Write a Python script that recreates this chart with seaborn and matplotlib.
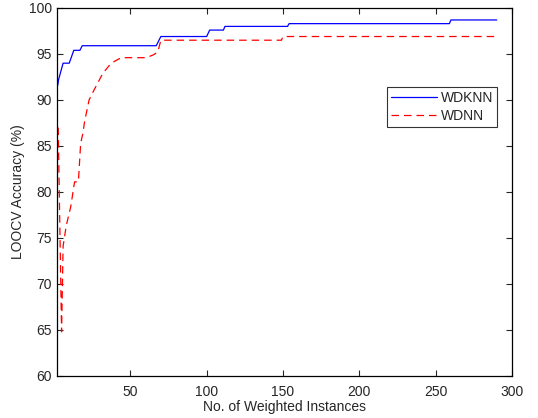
import matplotlib
matplotlib.use("Agg")
import matplotlib.pyplot as plt
import seaborn as sns
import pandas as pd

# WDKNN (blue solid) breakpoints
wdknn_x = [2.5, 3, 6, 10, 13, 17, 18.5, 67, 68.5, 70, 100, 102, 111, 112, 153, 154, 259, 260, 290]
wdknn_y = [91.6, 92.2, 94.0, 94.0, 95.4, 95.4, 95.9, 95.9, 96.4, 96.9, 96.9, 97.6, 97.6, 98.0, 98.0, 98.3, 98.3, 98.7, 98.7]

# WDNN (red dashed) breakpoints
wdnn_x = [2.8, 5, 6, 8, 11, 13.5, 16, 17.5, 19, 20, 23, 26, 32, 37.5, 44, 60.5, 65, 68, 70, 149, 150, 289]
wdnn_y = [87.0, 64.8, 74.1, 76.3, 78.4, 81.1, 81.1, 85.3, 86.4, 87.6, 90.0, 91.0, 92.9, 94.0, 94.6, 94.6, 94.9, 95.2, 96.5, 96.5, 96.9, 96.9]

series_names = ["WDKNN", "WDNN"]
x_ticks = [50, 100, 150, 200, 250, 300]
y_ticks = [60, 65, 70, 75, 80, 85, 90, 95, 100]

sns.set_style("white")
plt.rcParams["font.family"] = ["Liberation Sans", "DejaVu Sans"]

fig = plt.figure(figsize=(5.38, 4.18), dpi=100)
ax = fig.add_axes([57 / 538, 42 / 418, 455 / 538, 368 / 418])

df1 = pd.DataFrame({"x": wdknn_x, "y": wdknn_y})
df2 = pd.DataFrame({"x": wdnn_x, "y": wdnn_y})
sns.lineplot(data=df1, x="x", y="y", ax=ax, color=(0, 0, 1), lw=0.9,
             label=series_names[0], estimator=None, sort=False)
sns.lineplot(data=df2, x="x", y="y", ax=ax, color=(1, 0, 0), lw=0.9,
             label=series_names[1], estimator=None, sort=False,
             linestyle=(0, (6, 4)))

ax.set_xlim(2, 300)
ax.set_ylim(60, 100)
ax.set_xticks(x_ticks)
ax.set_yticks(y_ticks)
ax.tick_params(direction="in", length=4, width=0.8, labelsize=10,
               top=True, right=True, bottom=True, left=True, pad=3.5)
ax.tick_params(axis="x", pad=6.5)
ax.set_xlabel("No. of Weighted Instances", fontsize=10, labelpad=1)
ax.set_ylabel("LOOCV Accuracy (%)", fontsize=10, labelpad=3)
for s in ax.spines.values():
    s.set_color("black")
    s.set_linewidth(0.9)
    s.set_visible(True)

leg = ax.legend(loc="upper right", bbox_to_anchor=(0.968, 0.785), fontsize=10,
                frameon=True, fancybox=False, edgecolor="black",
                handlelength=3.3, borderpad=0.3, labelspacing=0.25,
                handletextpad=0.3, borderaxespad=0)
leg.get_frame().set_linewidth(0.8)

fig.savefig("out.png", dpi=100)
